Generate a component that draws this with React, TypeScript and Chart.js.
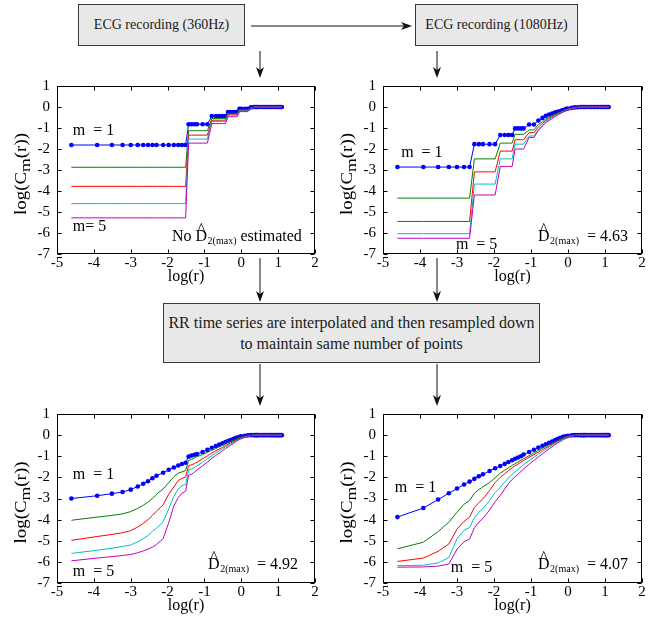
import React, { useEffect, useRef } from "react";
import { Chart, registerables } from "chart.js";
Chart.register(...registerables);

const SERIF = '"Liberation Serif", "Times New Roman", Times, serif';
const X_TICKS = [-5, -4, -3, -2, -1, 0, 1, 2];
const Y_TICKS = [1, 0, -1, -2, -3, -4, -5, -6, -7];
const SERIES_COLORS = ["#0000ff", "#008000", "#ff0000", "#00bfbf", "#bf00bf"];

// log(r) sample positions shared by every curve
const LOG_R = [-4.61, -3.91, -3.51, -3.22, -3.0, -2.81, -2.66, -2.53, -2.41, -2.3,
  -2.12, -1.97, -1.83, -1.71, -1.61, -1.51, -1.43, -1.35, -1.27, -1.2,
  -1.05, -0.92, -0.8, -0.69, -0.6, -0.51, -0.43, -0.36, -0.29, -0.22, -0.16, -0.11, -0.05, 0,
  0.1, 0.18, 0.26, 0.34, 0.38, 0.41, 0.44, 0.47, 0.53, 0.59, 0.64, 0.69,
  0.74, 0.79, 0.83, 0.88, 0.92, 0.96, 1.0, 1.03, 1.06, 1.1];

// ECG 360 Hz
const TL_M1 = [-1.81, -1.81, -1.81, -1.81, -1.81, -1.81, -1.81, -1.81, -1.81, -1.81,
  -1.81, -1.81, -1.81, -1.81, -1.81, -1.81, -0.82, -0.82, -0.82, -0.82,
  -0.82, -0.82, -0.43, -0.43, -0.43, -0.43, -0.43, -0.24, -0.24, -0.24, -0.24, -0.24, -0.08, -0.08,
  -0.08, -0.08, -0.02, 0, 0, 0, 0, 0, 0, 0, 0, 0, 0,
  0, 0, 0, 0, 0, 0, 0, 0, 0];
const TL_M2 = [-2.87, -2.87, -2.87, -2.87, -2.87, -2.87, -2.87, -2.87, -2.87, -2.87,
  -2.87, -2.87, -2.87, -2.87, -2.87, -2.87, -1.13, -1.13, -1.13, -1.13,
  -1.13, -1.13, -0.55, -0.55, -0.55, -0.55, -0.55, -0.3, -0.3, -0.3, -0.3, -0.3, -0.13, -0.13,
  -0.13, -0.13, -0.04, -0.01, 0, 0, 0, 0, 0, 0, 0, 0, 0,
  0, 0, 0, 0, 0, 0, 0, 0, 0];
const TL_M3 = [-3.78, -3.78, -3.78, -3.78, -3.78, -3.78, -3.78, -3.78, -3.78, -3.78,
  -3.78, -3.78, -3.78, -3.78, -3.78, -3.78, -1.34, -1.34, -1.34, -1.34,
  -1.34, -1.34, -0.63, -0.63, -0.63, -0.63, -0.63, -0.35, -0.35, -0.35, -0.35, -0.35, -0.16, -0.16,
  -0.16, -0.16, -0.05, -0.01, 0, 0, 0, 0, 0, 0, 0, 0, 0,
  0, 0, 0, 0, 0, 0, 0, 0, 0];
const TL_M4 = [-4.6, -4.6, -4.6, -4.6, -4.6, -4.6, -4.6, -4.6, -4.6, -4.6,
  -4.6, -4.6, -4.6, -4.6, -4.6, -4.6, -1.53, -1.53, -1.53, -1.53,
  -1.53, -1.53, -0.69, -0.69, -0.69, -0.69, -0.69, -0.39, -0.39, -0.39, -0.39, -0.39, -0.19, -0.19,
  -0.19, -0.19, -0.06, -0.02, 0, 0, 0, 0, 0, 0, 0, 0, 0,
  0, 0, 0, 0, 0, 0, 0, 0, 0];
const TL_M5 = [-5.28, -5.28, -5.28, -5.28, -5.28, -5.28, -5.28, -5.28, -5.28, -5.28,
  -5.28, -5.28, -5.28, -5.28, -5.28, -5.28, -1.72, -1.72, -1.72, -1.72,
  -1.72, -1.72, -0.79, -0.79, -0.79, -0.79, -0.79, -0.46, -0.46, -0.46, -0.46, -0.46, -0.22, -0.22,
  -0.22, -0.22, -0.07, -0.02, 0, 0, 0, 0, 0, 0, 0, 0, 0,
  0, 0, 0, 0, 0, 0, 0, 0, 0];

// ECG 1080 Hz
const TR_M1 = [-2.86, -2.86, -2.86, -2.86, -2.86, -2.86, -2.86, -1.77, -1.77, -1.77,
  -1.77, -1.77, -1.33, -1.33, -1.33, -1.33, -1.02, -1.02, -1.02, -1.02,
  -0.83, -0.83, -0.64, -0.52, -0.42, -0.36, -0.31, -0.27, -0.23, -0.2, -0.16, -0.13, -0.09, -0.07,
  -0.04, -0.02, -0.01, 0, 0, 0, 0, 0, 0, 0, 0, 0, 0,
  0, 0, 0, 0, 0, 0, 0, 0, 0];
const TR_M2 = [-4.34, -4.34, -4.34, -4.34, -4.34, -4.34, -4.34, -2.47, -2.47, -2.47,
  -2.47, -2.47, -1.72, -1.72, -1.72, -1.72, -1.3, -1.3, -1.3, -1.3,
  -1.09, -1.09, -0.83, -0.7, -0.56, -0.48, -0.41, -0.35, -0.29, -0.24, -0.2, -0.16, -0.12, -0.09,
  -0.05, -0.03, -0.01, 0, 0, 0, 0, 0, 0, 0, 0, 0, 0,
  0, 0, 0, 0, 0, 0, 0, 0, 0];
const TR_M3 = [-5.45, -5.45, -5.45, -5.45, -5.45, -5.45, -5.45, -3.09, -3.09, -3.09,
  -3.09, -3.09, -2.1, -2.1, -2.1, -2.1, -1.56, -1.56, -1.56, -1.56,
  -1.22, -1.22, -0.95, -0.78, -0.63, -0.54, -0.46, -0.39, -0.33, -0.27, -0.22, -0.18, -0.14, -0.1,
  -0.06, -0.03, -0.01, 0, 0, 0, 0, 0, 0, 0, 0, 0, 0,
  0, 0, 0, 0, 0, 0, 0, 0, 0];
const TR_M4 = [-6.03, -6.03, -6.03, -6.03, -6.03, -6.03, -6.03, -3.67, -3.67, -3.67,
  -3.67, -3.67, -2.47, -2.47, -2.47, -2.47, -1.77, -1.77, -1.77, -1.77,
  -1.38, -1.38, -1.06, -0.88, -0.69, -0.6, -0.51, -0.43, -0.36, -0.3, -0.24, -0.2, -0.15, -0.11,
  -0.07, -0.04, -0.02, 0, 0, 0, 0, 0, 0, 0, 0, 0, 0,
  0, 0, 0, 0, 0, 0, 0, 0, 0];
const TR_M5 = [-6.25, -6.25, -6.25, -6.25, -6.25, -6.25, -6.25, -4.19, -4.19, -4.19,
  -4.19, -4.19, -2.83, -2.83, -2.83, -2.83, -2.0, -2.0, -2.0, -2.0,
  -1.45, -1.45, -1.11, -0.91, -0.74, -0.64, -0.55, -0.47, -0.4, -0.33, -0.27, -0.22, -0.17, -0.13,
  -0.08, -0.05, -0.02, 0, 0, 0, 0, 0, 0, 0, 0, 0, 0,
  0, 0, 0, 0, 0, 0, 0, 0, 0];

// 360 Hz, interpolated and resampled
const BL_M1 = [-3.0, -2.87, -2.77, -2.69, -2.58, -2.43, -2.3, -2.18, -2.04, -1.92,
  -1.78, -1.64, -1.53, -1.44, -1.37, -1.31, -1.02, -0.97, -0.93, -0.89,
  -0.8, -0.7, -0.6, -0.52, -0.45, -0.39, -0.33, -0.28, -0.23, -0.18, -0.14, -0.11, -0.08, -0.06,
  -0.03, -0.01, 0, 0, 0, 0, 0, 0, 0, 0, 0, 0, 0,
  0, 0, 0, 0, 0, 0, 0, 0, 0];
const BL_M2 = [-4.03, -3.88, -3.8, -3.73, -3.62, -3.47, -3.32, -3.17, -3.0, -2.8,
  -2.55, -2.25, -1.97, -1.8, -1.74, -1.68, -1.2, -1.15, -1.08, -1.02,
  -0.92, -0.82, -0.72, -0.63, -0.56, -0.48, -0.41, -0.35, -0.3, -0.25, -0.2, -0.16, -0.12, -0.09,
  -0.05, -0.03, -0.01, 0, 0, 0, 0, 0, 0, 0, 0, 0, 0,
  0, 0, 0, 0, 0, 0, 0, 0, 0];
const BL_M3 = [-4.98, -4.8, -4.7, -4.62, -4.52, -4.35, -4.18, -4.0, -3.8, -3.6,
  -3.3, -2.8, -2.45, -2.15, -2.05, -1.98, -1.45, -1.4, -1.35, -1.28,
  -1.12, -0.98, -0.85, -0.74, -0.66, -0.58, -0.5, -0.43, -0.37, -0.31, -0.26, -0.21, -0.17, -0.13,
  -0.07, -0.04, -0.02, 0, 0, 0, 0, 0, 0, 0, 0, 0, 0,
  0, 0, 0, 0, 0, 0, 0, 0, 0];
const BL_M4 = [-5.6, -5.45, -5.35, -5.27, -5.2, -5.05, -4.9, -4.75, -4.55, -4.4,
  -4.1, -3.5, -2.9, -2.55, -2.4, -2.34, -1.65, -1.6, -1.53, -1.45,
  -1.28, -1.12, -0.97, -0.84, -0.74, -0.65, -0.56, -0.49, -0.42, -0.35, -0.29, -0.24, -0.19, -0.15,
  -0.09, -0.05, -0.02, 0, 0, 0, 0, 0, 0, 0, 0, 0, 0,
  0, 0, 0, 0, 0, 0, 0, 0, 0];
const BL_M5 = [-5.95, -5.82, -5.75, -5.7, -5.65, -5.57, -5.48, -5.4, -5.3, -5.18,
  -4.9, -4.15, -3.35, -2.95, -2.75, -2.65, -1.9, -1.85, -1.75, -1.65,
  -1.45, -1.28, -1.1, -0.96, -0.85, -0.74, -0.64, -0.56, -0.48, -0.4, -0.33, -0.27, -0.21, -0.17,
  -0.1, -0.06, -0.03, 0, 0, 0, 0, 0, 0, 0, 0, 0, 0,
  0, 0, 0, 0, 0, 0, 0, 0, 0];

// 1080 Hz, interpolated and resampled
const BR_M1 = [-3.88, -3.45, -3.05, -2.75, -2.53, -2.34, -2.2, -2.07, -1.95, -1.85,
  -1.7, -1.57, -1.46, -1.36, -1.27, -1.19, -1.12, -1.06, -1.0, -0.92,
  -0.8, -0.69, -0.59, -0.5, -0.43, -0.36, -0.3, -0.24, -0.19, -0.14, -0.1, -0.07, -0.05, -0.03,
  -0.01, 0, 0, 0, 0, 0, 0, 0, 0, 0, 0, 0, 0,
  0, 0, 0, 0, 0, 0, 0, 0, 0];
const BR_M2 = [-5.38, -5.07, -4.57, -4.12, -3.65, -3.27, -3.1, -2.75, -2.58, -2.45,
  -2.25, -2.02, -1.8, -1.66, -1.55, -1.43, -1.35, -1.27, -1.19, -1.12,
  -0.97, -0.84, -0.72, -0.62, -0.53, -0.45, -0.38, -0.32, -0.26, -0.2, -0.15, -0.11, -0.07, -0.05,
  -0.02, -0.01, 0, 0, 0, 0, 0, 0, 0, 0, 0, 0, 0,
  0, 0, 0, 0, 0, 0, 0, 0, 0];
const BR_M3 = [-5.98, -5.82, -5.5, -5.15, -4.45, -4.08, -3.88, -3.42, -3.2, -3.02,
  -2.62, -2.25, -2.0, -1.83, -1.68, -1.55, -1.45, -1.37, -1.28, -1.2,
  -1.05, -0.92, -0.8, -0.69, -0.6, -0.51, -0.43, -0.37, -0.31, -0.25, -0.19, -0.15, -0.1, -0.07,
  -0.03, -0.01, 0, 0, 0, 0, 0, 0, 0, 0, 0, 0, 0,
  0, 0, 0, 0, 0, 0, 0, 0, 0];
const BR_M4 = [-6.18, -6.16, -6.05, -5.8, -4.9, -4.5, -4.38, -3.9, -3.65, -3.48,
  -3.1, -2.72, -2.47, -2.22, -2.03, -1.85, -1.73, -1.62, -1.5, -1.4,
  -1.2, -1.05, -0.9, -0.78, -0.67, -0.57, -0.48, -0.41, -0.34, -0.27, -0.21, -0.17, -0.12, -0.09,
  -0.04, -0.02, 0, 0, 0, 0, 0, 0, 0, 0, 0, 0, 0,
  0, 0, 0, 0, 0, 0, 0, 0, 0];
const BR_M5 = [-6.25, -6.24, -6.2, -6.1, -5.4, -5.05, -4.92, -4.38, -4.12, -3.95,
  -3.55, -3.15, -2.85, -2.55, -2.3, -2.1, -1.97, -1.85, -1.72, -1.6,
  -1.38, -1.2, -1.03, -0.89, -0.77, -0.65, -0.55, -0.47, -0.39, -0.31, -0.25, -0.2, -0.14, -0.11,
  -0.05, -0.02, -0.01, 0, 0, 0, 0, 0, 0, 0, 0, 0, 0,
  0, 0, 0, 0, 0, 0, 0, 0, 0];

type Label = { text: string; x: number; y: number };
type DLabel = { prefix: string; suffix: string; x: number; y: number };
type PanelCfg = { left: number; top: number; w: number; h: number; series: number[][]; labels: Label[]; d: DLabel };

const PANELS: PanelCfg[] = [
  {
    left: 57, top: 84, w: 258, h: 170, series: [TL_M1, TL_M2, TL_M3, TL_M4, TL_M5],
    labels: [{ text: "m  = 1", x: -4.57, y: -1.12 }, { text: "m= 5", x: -4.57, y: -5.72 }],
    d: { prefix: "No ", suffix: " estimated", x: -1.88, y: -6.1 },
  },
  {
    left: 383, top: 84, w: 259, h: 170, series: [TR_M1, TR_M2, TR_M3, TR_M4, TR_M5],
    labels: [{ text: "m  = 1", x: -4.51, y: -2.19 }, { text: "m  = 5", x: -3.03, y: -6.54 }],
    d: { prefix: "", suffix: "  = 4.63", x: -0.81, y: -6.1 },
  },
  {
    left: 57, top: 412, w: 258, h: 171, series: [BL_M1, BL_M2, BL_M3, BL_M4, BL_M5],
    labels: [{ text: "m  = 1", x: -4.57, y: -1.9 }, { text: "m  = 5", x: -4.57, y: -6.47 }],
    d: { prefix: "", suffix: "  = 4.92", x: -0.9, y: -6.06 },
  },
  {
    left: 383, top: 412, w: 259, h: 171, series: [BR_M1, BR_M2, BR_M3, BR_M4, BR_M5],
    labels: [{ text: "m  = 1", x: -4.68, y: -2.51 }, { text: "m  = 5", x: -3.17, y: -6.3 }],
    d: { prefix: "", suffix: "  = 4.07", x: -0.81, y: -6.06 },
  },
];

const PAD_L = 57, PAD_T = 14, PAD_R = 15, PAD_B = 36;

function Panel({ cfg }: { cfg: PanelCfg }) {
  const ref = useRef<HTMLCanvasElement | null>(null);
  const cw = cfg.w + PAD_L + PAD_R;
  const ch = cfg.h + PAD_T + PAD_B;
  useEffect(() => {
    const deco = {
      id: "deco",
      beforeDatasetsDraw(chart: any) {
        const { ctx, chartArea, scales } = chart;
        const { left, top, right, bottom } = chartArea;
        ctx.save();
        ctx.strokeStyle = "#000";
        ctx.lineWidth = 1;
        const l = Math.round(left) + 0.5, t = Math.round(top) + 0.5;
        const r = Math.round(right) - 0.5, b = Math.round(bottom) - 0.5;
        ctx.strokeRect(l, t, r - l, b - t);
        ctx.beginPath();
        X_TICKS.forEach((v) => {
          const px = Math.round(scales.x.getPixelForValue(v)) + 0.5;
          ctx.moveTo(px, b); ctx.lineTo(px, b - 4);
          ctx.moveTo(px, t); ctx.lineTo(px, t + 4);
        });
        Y_TICKS.forEach((v) => {
          const py = Math.round(scales.y.getPixelForValue(v)) + 0.5;
          ctx.moveTo(l, py); ctx.lineTo(l + 4, py);
          ctx.moveTo(r, py); ctx.lineTo(r - 4, py);
        });
        ctx.stroke();
        ctx.restore();
      },
      afterDraw(chart: any) {
        const { ctx, chartArea, scales } = chart;
        const { left, top, right, bottom } = chartArea;
        ctx.save();
        ctx.fillStyle = "#000";
        // x title
        ctx.font = `16px ${SERIF}`;
        ctx.textAlign = "center";
        ctx.textBaseline = "middle";
        ctx.fillText("log(r)", (left + right) / 2, bottom + 23);
        // y title with subscript
        ctx.save();
        ctx.translate(left - 35, (top + bottom) / 2 + 4);
        ctx.rotate(-Math.PI / 2);
        ctx.scale(1.18, 1);
        ctx.textAlign = "left";
        ctx.textBaseline = "alphabetic";
        ctx.font = `16px ${SERIF}`;
        const w1 = ctx.measureText("log(C").width;
        const w2 = ctx.measureText("(r))").width;
        ctx.font = `15px ${SERIF}`;
        const wm = ctx.measureText("m").width;
        const start = -(w1 + wm + w2) / 2;
        ctx.font = `16px ${SERIF}`;
        ctx.fillText("log(C", start, 4);
        ctx.font = `15px ${SERIF}`;
        ctx.fillText("m", start + w1, 8);
        ctx.font = `16px ${SERIF}`;
        ctx.fillText("(r))", start + w1 + wm, 4);
        ctx.restore();
        // m labels
        ctx.font = `16px ${SERIF}`;
        ctx.textAlign = "left";
        ctx.textBaseline = "middle";
        cfg.labels.forEach((lb) => {
          ctx.fillText(lb.text, scales.x.getPixelForValue(lb.x), scales.y.getPixelForValue(lb.y));
        });
        // D-hat label
        const d = cfg.d;
        let x = scales.x.getPixelForValue(d.x);
        const base = scales.y.getPixelForValue(d.y) + 5.5;
        ctx.textBaseline = "alphabetic";
        ctx.font = `16px ${SERIF}`;
        if (d.prefix) {
          ctx.fillText(d.prefix, x, base);
          x += ctx.measureText(d.prefix).width;
        }
        const dw = ctx.measureText("D").width;
        ctx.fillText("D", x, base);
        ctx.textAlign = "center";
        ctx.fillText("^", x + dw / 2, base - 7);
        ctx.textAlign = "left";
        x += dw;
        ctx.font = `10px ${SERIF}`;
        ctx.fillText("2(max)", x + 0.5, base + 3);
        x += ctx.measureText("2(max)").width + 0.5;
        ctx.font = `16px ${SERIF}`;
        ctx.fillText(d.suffix, x, base);
        ctx.restore();
      },
    };
    const tickFont = { family: SERIF, size: 15 };
    const chart = new Chart(ref.current as HTMLCanvasElement, {
      type: "line",
      data: {
        datasets: cfg.series.map((s, i) => ({
          data: LOG_R.map((x, j) => ({ x, y: s[j] })),
          borderColor: SERIES_COLORS[i],
          backgroundColor: SERIES_COLORS[i],
          pointBackgroundColor: SERIES_COLORS[i],
          pointBorderColor: SERIES_COLORS[i],
          borderWidth: 1,
          pointRadius: i === 0 ? 2.3 : 0,
          pointBorderWidth: 0,
          pointHoverRadius: 0,
          fill: false,
          tension: 0,
          order: 5 - i,
        })),
      },
      options: {
        responsive: false,
        maintainAspectRatio: false,
        animation: false,
        events: [],
        layout: { padding: { top: PAD_T, right: PAD_R, left: 0, bottom: 0 } },
        plugins: { legend: { display: false }, tooltip: { enabled: false } },
        scales: {
          x: {
            type: "linear",
            min: -5,
            max: 2,
            afterBuildTicks: (s: any) => { s.ticks = X_TICKS.map((v) => ({ value: v })); },
            afterFit: (s: any) => { s.height = PAD_B; },
            ticks: { font: tickFont, color: "#000", padding: 0, maxRotation: 0, autoSkip: false },
            grid: { display: false, drawTicks: false },
            border: { display: false },
          },
          y: {
            type: "linear",
            min: -7,
            max: 1,
            afterBuildTicks: (s: any) => { s.ticks = Y_TICKS.map((v) => ({ value: v })); },
            afterFit: (s: any) => { s.width = PAD_L; },
            ticks: { font: tickFont, color: "#000", padding: 7, autoSkip: false },
            grid: { display: false, drawTicks: false },
            border: { display: false },
          },
        },
      },
      plugins: [deco],
    } as any);
    return () => chart.destroy();
  }, []);
  return (
    <canvas
      ref={ref}
      width={cw}
      height={ch}
      style={{ position: "absolute", left: cfg.left - PAD_L, top: cfg.top - PAD_T, width: cw, height: ch }}
    />
  );
}

const boxStyle: React.CSSProperties = {
  position: "absolute",
  boxSizing: "border-box",
  border: "1px solid #3a3a3a",
  background: "#e8e8e8",
  display: "flex",
  alignItems: "center",
  justifyContent: "center",
  textAlign: "center",
  fontFamily: SERIF,
  color: "#1a1a1a",
  whiteSpace: "nowrap",
};

function DownArrow({ x, y1, y2 }: { x: number; y1: number; y2: number }) {
  return (
    <g>
      <line x1={x} y1={y1} x2={x} y2={y2 - 7} stroke="#111" strokeWidth={1} />
      <path d={`M ${x} ${y2} L ${x - 4} ${y2 - 11} L ${x} ${y2 - 8} L ${x + 4} ${y2 - 11} Z`} fill="#111" />
    </g>
  );
}

export default function App() {
  return (
    <div style={{ position: "absolute", left: 0, top: 0, width: 662, height: 621, background: "#fff", overflow: "hidden" }}>
      <div style={{ ...boxStyle, left: 78, top: 4, width: 167, height: 42, fontSize: 14 }}>ECG recording (360Hz)</div>
      <div style={{ ...boxStyle, left: 415, top: 4, width: 163, height: 42, fontSize: 14 }}>ECG recording (1080Hz)</div>
      <div style={{ ...boxStyle, left: 163, top: 303, width: 377, height: 60, fontSize: 16, lineHeight: "21px" }}>
        <div>
          RR time series are interpolated and then resampled down
          <br />
          to maintain same number of points
        </div>
      </div>
      {PANELS.map((p, i) => (
        <Panel key={i} cfg={p} />
      ))}
      <svg width={662} height={621} style={{ position: "absolute", left: 0, top: 0, pointerEvents: "none" }}>
        <line x1={251} y1={26} x2={405} y2={26} stroke="#111" strokeWidth={1} />
        <path d="M 412 26 L 401 22 L 404 26 L 401 30 Z" fill="#111" />
        <DownArrow x={260} y1={51} y2={78} />
        <DownArrow x={437} y1={51} y2={78} />
        <DownArrow x={260} y1={258} y2={302} />
        <DownArrow x={437} y1={258} y2={302} />
        <DownArrow x={260} y1={364} y2={406} />
        <DownArrow x={437} y1={364} y2={406} />
      </svg>
    </div>
  );
}
